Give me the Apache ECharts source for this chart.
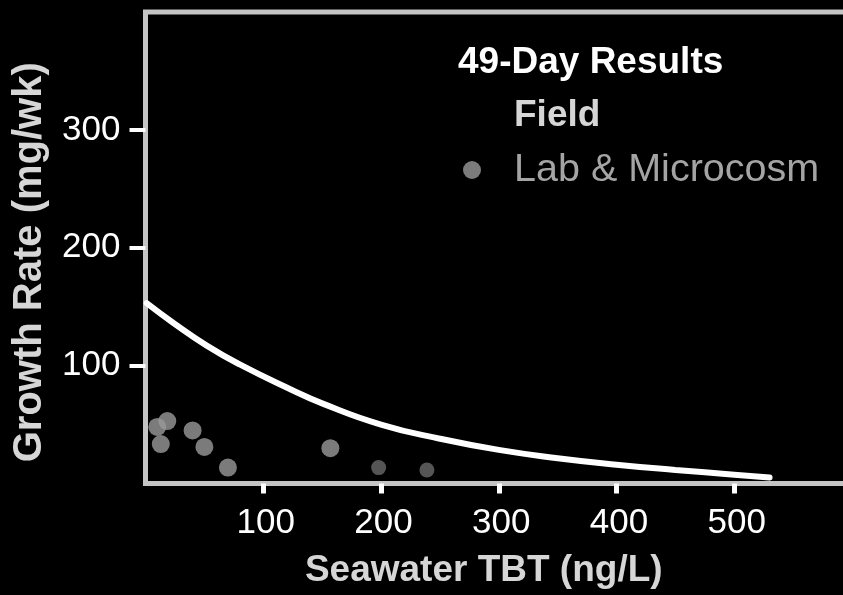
<!DOCTYPE html>
<html>
<head>
<meta charset="utf-8">
<script src="https://cdn.jsdelivr.net/npm/echarts@6/dist/echarts.min.js"></script>
<style>html,body{margin:0;padding:0;background:#000;}#c{width:843px;height:595px;}</style>
</head>
<body>
<div id="c"></div>
<script>
const xTicks = [100, 200, 300, 400, 500];
const yTicks = [100, 200, 300];
const fieldX = [1, 24, 52, 80, 123, 150, 200, 250, 300, 350, 400, 450, 500, 530];
const fieldY = [153, 136, 117, 101, 80, 68, 50, 38, 28.5, 21.5, 16, 11.5, 7.5, 5];
const labX = [10, 18.5, 13, 40, 50, 70, 157, 198, 239];
const labY = [48, 53, 33.5, 45, 31, 13.5, 30, 13.5, 11.5];
const titleText = '49-Day Results';
const seriesNames = ['Field', 'Lab & Microcosm'];
const xName = 'Seawater TBT (ng/L)';
const yName = 'Growth Rate (mg/wk)';

const FONT = '"Liberation Sans", Arial, Helvetica, sans-serif';
const faint = new Set([7, 8]);

const chart = echarts.init(document.getElementById('c'), null, {renderer: 'canvas'});
chart.setOption({
  backgroundColor: '#000',
  animation: false,
  title: {
    text: titleText, left: 458, top: 43, padding: 0,
    textStyle: {color: '#fff', fontFamily: FONT, fontWeight: 'bold', fontSize: 37, lineHeight: 40}
  },
  legend: {
    orient: 'vertical', left: 463, top: 96, padding: 0, itemGap: 14,
    itemWidth: 18, itemHeight: 18,
    textStyle: {fontFamily: FONT, fontSize: 37, lineHeight: 40, padding: [0, 0, 0, 28]},
    data: [
      {name: seriesNames[0], icon: 'circle', itemStyle: {color: 'rgba(0,0,0,0)', opacity: 0}, lineStyle: {opacity: 0},
       textStyle: {color: '#d6d6d6', fontWeight: 'bold', fontSize: 37}},
      {name: seriesNames[1], icon: 'circle', itemStyle: {color: '#9a9a9a'},
       textStyle: {color: '#a4a4a4', fontWeight: 'normal', fontSize: 39.5}}
    ]
  },
  grid: {
    left: 145.5, top: 12, width: 706.5, height: 471.5,
    outerBoundsMode: 'none',
    show: true, borderColor: '#c4c4c4', borderWidth: 5, backgroundColor: 'transparent',
    containLabel: false
  },
  xAxis: {
    type: 'value', min: 0, max: 600, interval: 100,
    name: xName, nameLocation: 'middle', nameGap: 69,
    nameTextStyle: {color: '#d6d6d6', fontFamily: FONT, fontWeight: 'bold', fontSize: 37, padding: [0, 30, 0, 0]},
    axisLine: {show: false},
    splitLine: {show: false},
    axisTick: {show: true, customValues: xTicks, length: 10, lineStyle: {color: '#fff', width: 5}},
    axisLabel: {customValues: xTicks, color: '#fff', fontFamily: FONT, fontSize: 35, margin: 22, padding: [0, 0, 0, 5]}
  },
  yAxis: {
    type: 'value', min: 0, max: 400, interval: 100,
    name: yName, nameLocation: 'middle', nameGap: 96,
    nameTextStyle: {color: '#d6d6d6', fontFamily: FONT, fontWeight: 'bold', fontSize: 40, padding: [0, 29, 0, 0]},
    axisLine: {show: false},
    splitLine: {show: false},
    axisTick: {show: true, customValues: yTicks, length: 16, lineStyle: {color: '#fff', width: 4}},
    axisLabel: {customValues: yTicks, color: '#fff', fontFamily: FONT, fontSize: 35, margin: 25, padding: [8, 0, 0, 0]}
  },
  series: [
    {
      name: seriesNames[0], type: 'line', smooth: 0.5, showSymbol: false,
      data: fieldX.map((x, i) => [x, fieldY[i]]),
      lineStyle: {color: '#fff', width: 6, cap: 'round'},
      itemStyle: {color: '#fff'}, z: 3
    },
    {
      name: seriesNames[1], type: 'scatter', symbol: 'circle', symbolSize: 18,
      data: labX.map((x, i) => ({value: [x, labY[i]], itemStyle: faint.has(i) ? {opacity: 0.55} : undefined, symbolSize: faint.has(i) ? 15 : 18})),
      itemStyle: {color: '#9a9a9a'}, z: 2
    }
  ]
});
</script>
</body>
</html>
